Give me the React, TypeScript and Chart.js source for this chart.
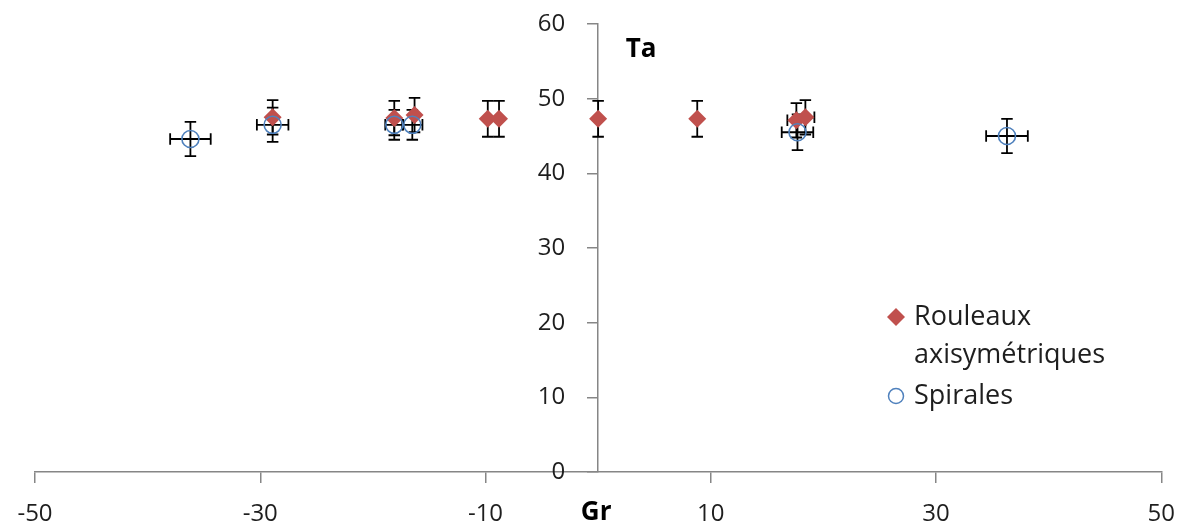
import { useEffect, useRef } from "react";
import { Chart, registerables } from "chart.js";

Chart.register(...registerables);

// ---- data ----
const rouleauxLabel = "Rouleaux axisymétriques";
const rouleauxX = [-28.9, -18.1, -16.3, -9.8, -8.8, 0, 8.8, 17.6, 18.4];
const rouleauxY = [47.5, 47.4, 47.8, 47.3, 47.3, 47.3, 47.3, 47.1, 47.5];
const rouleauxErrX = [0, 0, 0, 0, 0, 0, 0, 0.8, 0.8];
const rouleauxErrY = [2.3, 2.3, 2.3, 2.4, 2.4, 2.4, 2.4, 2.3, 2.3];

const spiralesLabel = "Spirales";
const spiralesX = [-36.2, -28.9, -18.1, -16.5, 17.7, 36.3];
const spiralesY = [44.6, 46.5, 46.5, 46.5, 45.5, 45.0];
const spiralesErrX = [1.8, 1.4, 0.8, 0.9, 1.4, 1.85];
const spiralesErrY = [2.3, 2.3, 2.0, 2.0, 2.4, 2.3];

const xTickValues = [-50, -30, -10, 10, 30, 50];
const yTickValues = [0, 10, 20, 30, 40, 50, 60];
const xAxisTitle = "Gr";
const yAxisTitle = "Ta";
const legendLines = [["Rouleaux", "axisymétriques"], ["Spirales"]];

// ---- styles ----
const RED = "#C0504D";
const BLUE = "#4F81BD";
const AXIS = "#868686";
const TEXT = "#1e1e1e";
const FONT = "Open Sans";

const errorBarPlugin = {
  id: "errorBars",
  beforeDatasetsDraw(chart: any) {
    const { ctx } = chart;
    const xs = chart.scales.x;
    const ys = chart.scales.y;
    const cap = 5.75;
    ctx.save();
    ctx.strokeStyle = "#000";
    ctx.lineWidth = 1.8;
    chart.data.datasets.forEach((ds: any) => {
      ds.data.forEach((p: any, j: number) => {
        const ex = ds.errX[j] || 0;
        const ey = ds.errY[j] || 0;
        const px = xs.getPixelForValue(p.x);
        const py = ys.getPixelForValue(p.y);
        ctx.beginPath();
        if (ey > 0) {
          const t = ys.getPixelForValue(p.y + ey);
          const b = ys.getPixelForValue(p.y - ey);
          ctx.moveTo(px, t);
          ctx.lineTo(px, b);
          ctx.moveTo(px - cap, t);
          ctx.lineTo(px + cap, t);
          ctx.moveTo(px - cap, b);
          ctx.lineTo(px + cap, b);
        }
        if (ex > 0) {
          const l = xs.getPixelForValue(p.x - ex);
          const r = xs.getPixelForValue(p.x + ex);
          ctx.moveTo(l, py);
          ctx.lineTo(r, py);
          ctx.moveTo(l, py - cap);
          ctx.lineTo(l, py + cap);
          ctx.moveTo(r, py - cap);
          ctx.lineTo(r, py + cap);
        }
        ctx.stroke();
      });
    });
    ctx.restore();
  },
};

const textPlugin = {
  id: "texts",
  afterDraw(chart: any) {
    const { ctx } = chart;
    const xs = chart.scales.x;
    const ys = chart.scales.y;
    const x0 = xs.getPixelForValue(0);
    ctx.save();
    ctx.fillStyle = "#000";
    ctx.font = `bold 26px "${FONT}"`;
    ctx.textAlign = "center";
    ctx.textBaseline = "middle";
    ctx.fillText(xAxisTitle, x0 - 2, ys.getPixelForValue(0) + 41);
    ctx.fillText(yAxisTitle, x0 + 43, ys.getPixelForValue(60) + 26);

    // legend
    const mx = 896;
    const tx = 914;
    const rows = [317, 355, 396];
    ctx.font = `27px "${FONT}"`;
    ctx.textAlign = "left";
    let row = 0;
    legendLines.forEach((lines, i) => {
      const cy = rows[row];
      if (i === 0) {
        ctx.beginPath();
        ctx.moveTo(mx - 9, cy);
        ctx.lineTo(mx, cy - 9);
        ctx.lineTo(mx + 9, cy);
        ctx.lineTo(mx, cy + 9);
        ctx.closePath();
        ctx.fillStyle = RED;
        ctx.fill();
      } else {
        ctx.beginPath();
        ctx.arc(mx, cy, 7.5, 0, Math.PI * 2);
        ctx.strokeStyle = BLUE;
        ctx.lineWidth = 1.5;
        ctx.stroke();
      }
      ctx.fillStyle = TEXT;
      lines.forEach((ln) => {
        ctx.fillText(ln, tx, rows[row]);
        row++;
      });
    });
    ctx.restore();
  },
};

export default function App() {
  const ref = useRef<HTMLCanvasElement | null>(null);
  useEffect(() => {
    if (!ref.current) return;
    const font = { family: FONT, size: 24 };
    const chart = new Chart(ref.current, {
      type: "scatter",
      data: {
        datasets: [
          {
            label: spiralesLabel,
            data: spiralesX.map((x, i) => ({ x, y: spiralesY[i] })),
            errX: spiralesErrX,
            errY: spiralesErrY,
            pointStyle: "circle",
            pointRadius: 8.5,
            pointBorderWidth: 1.6,
            pointBorderColor: BLUE,
            pointBackgroundColor: "rgba(0,0,0,0)",
            order: 0,
          } as any,
          {
            label: rouleauxLabel,
            data: rouleauxX.map((x, i) => ({ x, y: rouleauxY[i] })),
            errX: rouleauxErrX,
            errY: rouleauxErrY,
            pointStyle: "rectRot",
            pointRadius: 9,
            pointBorderWidth: 0,
            pointBorderColor: RED,
            pointBackgroundColor: RED,
            order: 1,
          } as any,
        ],
      },
      options: {
        animation: false,
        responsive: true,
        maintainAspectRatio: false,
        layout: { padding: { left: 35, right: 30, top: 24, bottom: 0 } },
        plugins: { legend: { display: false }, tooltip: { enabled: false } },
        events: [],
        scales: {
          x: {
            type: "linear",
            min: -50,
            max: 50,
            afterBuildTicks: (s: any) => {
              s.ticks = xTickValues.map((v) => ({ value: v }));
            },
            afterFit: (s: any) => {
              s.height = 54;
            },
            grid: {
              display: true,
              drawOnChartArea: false,
              drawTicks: true,
              tickLength: 11,
              color: AXIS,
              lineWidth: 1.5,
            },
            border: { display: true, color: AXIS, width: 1.5 },
            ticks: {
              font,
              color: TEXT,
              padding: 17,
              maxRotation: 0,
              autoSkip: false,
              callback: (v: any) => String(v),
            },
          },
          y: {
            type: "linear",
            min: 0,
            max: 60,
            position: "center",
            afterBuildTicks: (s: any) => {
              s.ticks = yTickValues.map((v) => ({ value: v }));
            },
            afterFit: (s: any) => {
              s.width = 0;
              s.paddingTop = 0;
              s.paddingBottom = 0;
            },
            grid: {
              display: true,
              drawOnChartArea: false,
              drawTicks: true,
              tickLength: 10,
              color: AXIS,
              lineWidth: 1.5,
            },
            border: { display: true, color: AXIS, width: 1.5 },
            ticks: {
              font,
              color: TEXT,
              padding: 23,
              autoSkip: false,
              callback: (v: any) => String(v),
            },
          },
        },
      } as any,
      plugins: [errorBarPlugin, textPlugin],
    });
    return () => chart.destroy();
  }, []);
  return (
    <div style={{ position: "absolute", left: 0, top: 0, width: 1192, height: 526 }}>
      <canvas ref={ref} />
    </div>
  );
}
